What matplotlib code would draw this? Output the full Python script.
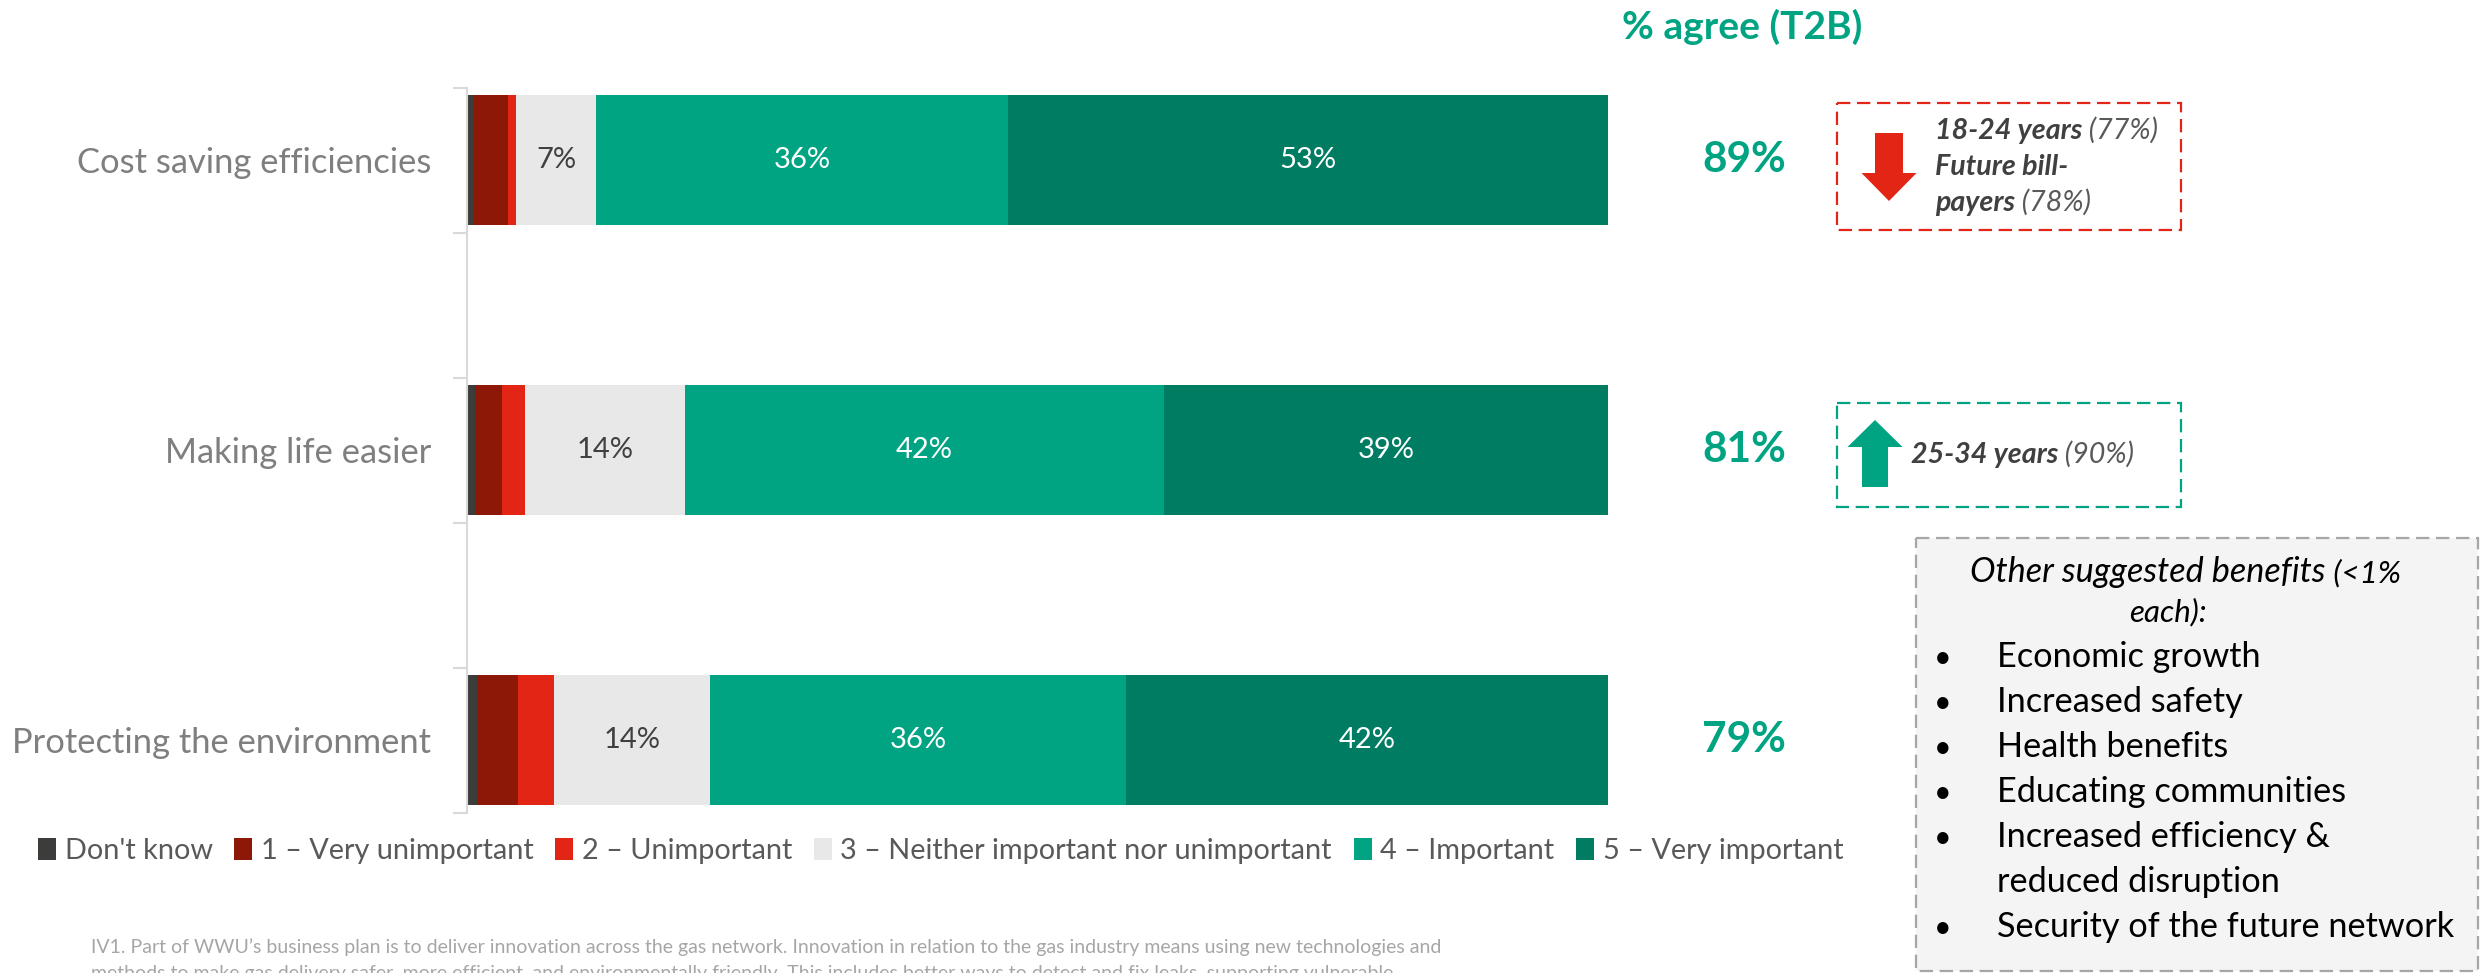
import matplotlib
matplotlib.use("Agg")
import matplotlib.pyplot as plt
from matplotlib.patches import Rectangle, FancyArrow
from matplotlib.transforms import blended_transform_factory
import numpy as np

plt.rcParams['font.family'] = ['Lato', 'DejaVu Sans']

# ---- data -------------------------------------------------------------
categories = ["Cost saving efficiencies", "Making life easier", "Protecting the environment"]
dont_know = [0.6, 0.7, 0.9]
very_unimportant = [3.0, 2.4, 3.6]
unimportant = [0.7, 2.0, 3.1]
neither = [7.0, 14.0, 13.7]
important = [36.1, 42.0, 36.5]
very_important = [52.6, 38.9, 42.2]

series_names = ["Don't know", "1 – Very unimportant", "2 – Unimportant",
                "3 – Neither important nor unimportant", "4 – Important",
                "5 – Very important"]

# top-two-box share per category
t2b = [round(i + v) for i, v in zip(important, very_important)]

lower_groups = [[("18-24 years", True), (" (77%)", False)],
                [("Future bill-", True)],
                [("payers", True), (" (78%)", False)]]
higher_groups = [[("25-34 years", True), (" (90%)", False)]]

other_title = [("Other suggested benefits", False), (" (<1%", True)]
other_title_tail = "each):"
other_benefits = [["Economic growth"], ["Increased safety"], ["Health benefits"],
                  ["Educating communities"],
                  ["Increased efficiency &", "reduced disruption"],
                  ["Security of the future network"]]

footnote = ["IV1. Part of WWU\u2019s business plan is to deliver innovation across the gas network. Innovation in relation to the gas industry means using new technologies and",
            "methods to make gas delivery safer, more efficient, and environmentally friendly. This includes better ways to detect and fix leaks, supporting vulnerable"]

# ---- styling ----------------------------------------------------------
series_colors = ["#3c3c3b", "#8e1808", "#e32516", "#e8e8e8", "#00a482", "#007c63"]
label_colors = [None, None, None, "#404040", "white", "white"]
GREEN = "#00a482"
RED = "#e32516"

W, H = 2484, 973
fig = plt.figure(figsize=(W / 100, H / 100), dpi=100)

ax_left, ax_right = 467, 1608
ax_top, ax_bottom = 87.5, 812.5
ax = fig.add_axes([ax_left / W, 1 - ax_bottom / H,
                   (ax_right - ax_left) / W, (ax_bottom - ax_top) / H])

series = [dont_know, very_unimportant, unimportant, neither, important, very_important]
slots = np.arange(0, 2 * len(categories), 2)  # blank slot between bars
left = np.zeros(len(categories))
for vals, col, lcol in zip(series, series_colors, label_colors):
    vals = np.asarray(vals, dtype=float)
    ax.barh(slots, vals, left=left, height=0.9, color=col, edgecolor='none')
    if lcol is not None:
        for y, l, v in zip(slots, left, vals):
            ax.text(l + v / 2, y, f"{round(v)}%", ha='center', va='center',
                    fontsize=21, color=lcol)
    left += vals

ax.set_xlim(0, 100)
ax.set_ylim(2 * len(categories) - 1.5, -0.5)
for s in ['top', 'right', 'bottom']:
    ax.spines[s].set_visible(False)
ax.spines['left'].set_color('#d9d9d9')
ax.spines['left'].set_linewidth(1.5)
ax.set_xticks([])
ax.set_yticks(np.arange(-0.5, 2 * len(categories) - 1, 1))
ax.set_yticklabels([])
ax.tick_params(axis='y', which='major', length=10, width=1.5, color='#d9d9d9')
ax.set_yticks(slots, minor=True)
ax.set_yticklabels(categories, minor=True, fontsize=24.8, color='#7f7f7f')
ax.tick_params(axis='y', which='minor', length=0, pad=26)

# T2B column
bt = blended_transform_factory(fig.transFigure, ax.transData)
for y, v in zip(slots, t2b):
    ax.text(1744 / W, y, f"{v}%", transform=bt, ha='center', va='center',
            fontsize=30.5, fontweight='bold', color=GREEN, clip_on=False)
fig.text(1742 / W, 1 - 27 / H, "% agree (T2B)", ha='center', va='center',
         fontsize=28, fontweight='bold', color=GREEN)

# legend
handles = [Rectangle((0, 0), 1, 1, fc=c, ec='none') for c in series_colors]
ax.legend(handles, series_names, ncol=6, loc='center left',
          bbox_to_anchor=(38 / W, 1 - 851 / H), bbox_transform=fig.transFigure,
          frameon=False, fontsize=20.8, handlelength=0.62, handleheight=0.75,
          handletextpad=0.3, columnspacing=0.75, borderpad=0, borderaxespad=0,
          labelcolor='#595959')

# overlay in pixel coordinates for callouts
ov = fig.add_axes([0, 0, 1, 1])
ov.set_xlim(0, W)
ov.set_ylim(H, 0)
ov.axis('off')

renderer = fig.canvas.get_renderer()


def text_width(t):
    inv = ov.transData.inverted()
    bb = t.get_window_extent(renderer=renderer)
    return inv.transform((bb.x1, bb.y0))[0] - inv.transform((bb.x0, bb.y0))[0]


def rich_line(x, y, parts, size):
    for txt, bold in parts:
        t = ov.text(x, y, txt, fontsize=size, fontstyle='italic',
                    fontweight='bold' if bold else 'normal',
                    color='#404040' if bold else '#595959',
                    ha='left', va='baseline')
        x += text_width(t)


# lower-scoring groups
ov.add_patch(Rectangle((1837, 103), 344, 127, fill=False, ec=RED, lw=1.6,
                       ls=(0, (6, 3))))
ov.add_patch(FancyArrow(1889, 133, 0, 68, width=28, head_width=55,
                        head_length=28, length_includes_head=True,
                        color=RED, lw=0))
for i, parts in enumerate(lower_groups):
    rich_line(1935, 139 + 36 * i, parts, 20.6)

# higher-scoring groups
ov.add_patch(Rectangle((1837, 403), 344, 104, fill=False, ec=GREEN, lw=1.6,
                       ls=(0, (6, 3))))
ov.add_patch(FancyArrow(1875, 487, 0, -67, width=26, head_width=55,
                        head_length=27, length_includes_head=True,
                        color=GREEN, lw=0))
for i, parts in enumerate(higher_groups):
    rich_line(1911, 463 + 36 * i, parts, 20.6)

# other suggested benefits
ov.add_patch(Rectangle((1916, 538), 562, 433, fc='#f4f4f4', ec='#a6a6a6',
                       lw=1.6, ls=(0, (6, 3))))
x = 1970
for txt, small in other_title:
    t = ov.text(x, 582, txt, ha='left', va='baseline',
                fontsize=22.5 if small else 24.7, fontstyle='italic', color='black')
    x += text_width(t)
ov.text(2168, 621, other_title_tail, ha='center', va='baseline',
        fontsize=22.5, fontstyle='italic', color='black')
row = 0
for item in other_benefits:
    ov.text(1943, 667 + 45 * row, "\u2022", ha='center', va='baseline',
            fontsize=22, color='black')
    for line in item:
        ov.text(1997, 667 + 45 * row, line, ha='left', va='baseline',
                fontsize=24.7, color='black')
        row += 1

# question wording
for i, line in enumerate(footnote):
    ov.text(91, 953 + 26 * i, line, ha='left', va='baseline', fontsize=14,
            color='#a6a6a6')

fig.savefig("out.png", dpi=100)
